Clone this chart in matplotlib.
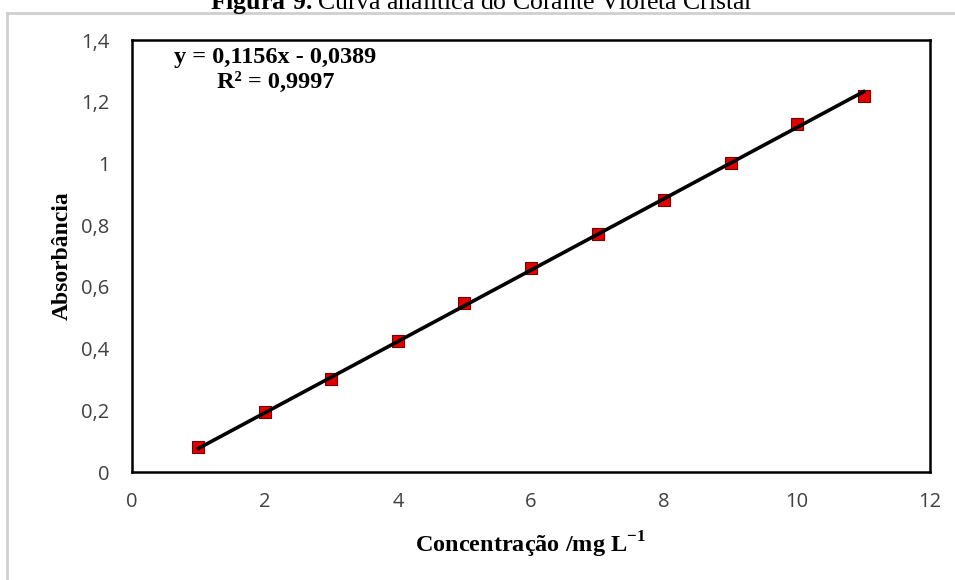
import matplotlib.pyplot as plt
from matplotlib.lines import Line2D
from matplotlib.ticker import FuncFormatter
import numpy as np

concentration = [1, 2, 3, 4, 5, 6, 7, 8, 9, 10, 11]
absorbance = [0.081, 0.194, 0.301, 0.425, 0.548, 0.661, 0.771, 0.881, 1.001, 1.128, 1.218]
slope = 0.1156
intercept = -0.0389
r_squared = 0.9997

x_ticks = [0, 2, 4, 6, 8, 10, 12]
y_ticks = [0, 0.2, 0.4, 0.6, 0.8, 1.0, 1.2, 1.4]

SERIF = "Liberation Serif"
TICK_FONT = "Open Sans"


def comma(value, _pos):
    text = f"{value:.1f}".rstrip("0").rstrip(".")
    return text.replace(".", ",")


def main():
    fig = plt.figure(figsize=(9.55, 5.8), dpi=100)
    ax = fig.add_axes([0.138, 0.186, 0.836, 0.745])

    # light grey frame of the Excel chart area (only left/top visible)
    fig.add_artist(Line2D([0.0075, 0.0075], [0.0, 0.978], transform=fig.transFigure,
                          color="#cfcfcf", linewidth=2))
    fig.add_artist(Line2D([0.0075, 1.0], [0.978, 0.978], transform=fig.transFigure,
                          color="#cfcfcf", linewidth=2))

    fig.text(0.504, 0.9845,
             r"$\mathbf{Figura\ 9.}$Curva analítica do Corante Violeta Cristal",
             fontsize=18.5, family=SERIF, ha="center", va="baseline")

    ax.scatter(concentration, absorbance, marker="s", s=80, color="#e00000",
               edgecolor="#7a0000", linewidth=0.8, zorder=3)
    fit_x = np.array([concentration[0], concentration[-1]])
    ax.plot(fit_x, slope * fit_x + intercept, color="black", linewidth=2.6, zorder=4)

    ax.set_xlim(0, 12)
    ax.set_ylim(0, 1.4)
    ax.set_xticks(x_ticks)
    ax.set_yticks(y_ticks)
    ax.xaxis.set_major_formatter(FuncFormatter(comma))
    ax.yaxis.set_major_formatter(FuncFormatter(comma))
    ax.tick_params(length=0, labelsize=14.5, colors="#404040")
    ax.tick_params(axis="y", pad=16)
    ax.tick_params(axis="x", pad=14)
    for label in ax.get_xticklabels() + ax.get_yticklabels():
        label.set_family(TICK_FONT)
    for spine in ax.spines.values():
        spine.set_linewidth(1.8)
        spine.set_color("black")

    ax.set_xlabel(r"Concentração /mg L$^{\mathbf{-1}}$", family=SERIF, fontsize=17.5,
                  fontweight="bold", labelpad=13)
    ax.set_ylabel("Absorbância", family=SERIF, fontsize=17, fontweight="bold",
                  labelpad=6)

    equation = f"y = {slope:.4f}x - {abs(intercept):.4f}".replace(".", ",")
    r_text = f"R² = {r_squared:.4f}".replace(".", ",")
    ax.text(0.18, 0.985, equation + "\n" + r_text, transform=ax.transAxes,
            family=SERIF, fontsize=17.5, fontweight="bold", ha="center", va="top",
            linespacing=1.3)

    fig.savefig("out.png", dpi=100)


if __name__ == "__main__":
    plt.rcParams["mathtext.fontset"] = "custom"
    plt.rcParams["mathtext.rm"] = "Liberation Serif"
    plt.rcParams["mathtext.bf"] = "Liberation Serif:bold"
    main()
